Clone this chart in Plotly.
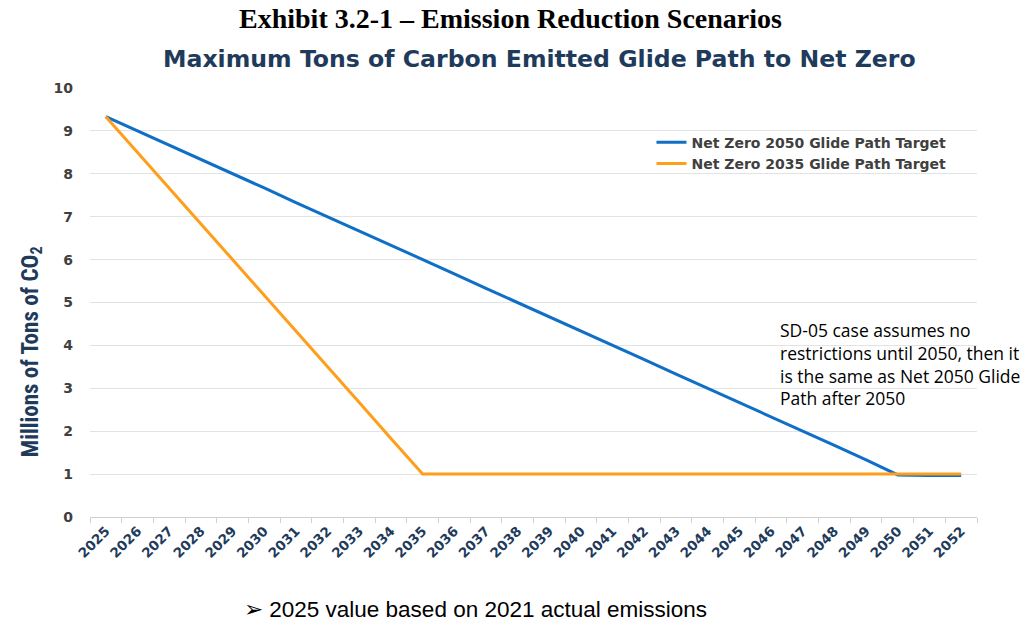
import plotly.graph_objects as go

# Years on the category axis
years = [str(y) for y in range(2025, 2053)]

# Millions of tons of CO2, by year
net_zero_2050 = [9.33, 9.00, 8.67, 8.33, 8.00, 7.67, 7.33, 7.00, 6.67, 6.33,
                 6.00, 5.67, 5.33, 5.00, 4.67, 4.33, 4.00, 3.67, 3.33, 3.00,
                 2.67, 2.33, 2.00, 1.67, 1.33, 0.98, 0.97, 0.97]
net_zero_2035 = [9.33, 8.50, 7.67, 6.83, 6.00, 5.17, 4.33, 3.50, 2.67, 1.83,
                 1.00, 1.00, 1.00, 1.00, 1.00, 1.00, 1.00, 1.00, 1.00, 1.00,
                 1.00, 1.00, 1.00, 1.00, 1.00, 1.00, 1.00, 1.00]

y_ticks = list(range(0, 11))

NAVY = "#1f3b5c"
GRAY_TXT = "#404040"

fig = go.Figure()
fig.add_trace(go.Scatter(
    x=years, y=net_zero_2050, mode="lines",
    name="Net Zero 2050 Glide Path Target",
    line=dict(color="#0f6fc6", width=3),
))
fig.add_trace(go.Scatter(
    x=years, y=net_zero_2035, mode="lines",
    name="Net Zero 2035 Glide Path Target",
    line=dict(color="#ff9e1b", width=3),
))

fig.update_layout(
    width=1026, height=624,
    margin=dict(l=90, r=49, t=88, b=107),
    paper_bgcolor="white", plot_bgcolor="white",
    showlegend=True,
    legend=dict(
        x=0.633, y=0.91, xanchor="left", yanchor="top",
        bgcolor="rgba(0,0,0,0)",
        font=dict(family="DejaVu Sans", size=14, color=GRAY_TXT, weight="bold"),
        tracegroupgap=0, itemwidth=30,
    ),
    xaxis=dict(
        type="category",
        categoryorder="array", categoryarray=years,
        range=[-0.5, len(years) - 0.5],
        tickangle=-45,
        tickfont=dict(family="DejaVu Sans", size=13.5, color=NAVY, weight="bold"),
        showgrid=False,
        showline=True, linecolor="#d0d0d0", linewidth=1,
        ticks="outside", ticklen=5, tickcolor="#d0d0d0",
        tickson="boundaries",
        zeroline=False,
    ),
    yaxis=dict(
        range=[0, 10],
        tickvals=y_ticks,
        tickfont=dict(family="DejaVu Sans", size=14, color=GRAY_TXT, weight="bold"),
        showgrid=True, gridcolor="#e3e3e3", gridwidth=1,
        zeroline=False, showline=False,
        ticklabelstandoff=16,
    ),
)

fig.add_annotation(
    xref="paper", yref="paper", x=0.4746, y=1.163,
    text="<b>Exhibit 3.2-1 – Emission Reduction Scenarios</b>",
    showarrow=False, xanchor="center", yanchor="middle",
    font=dict(family="Liberation Serif", size=28, color="black"),
)
fig.add_annotation(
    xref="paper", yref="paper", x=0.507, y=1.0676,
    text="<b>Maximum Tons of Carbon Emitted Glide Path to Net Zero</b>",
    showarrow=False, xanchor="center", yanchor="middle",
    font=dict(family="DejaVu Sans", size=23.6, color=NAVY),
)
fig.add_annotation(
    xref="paper", yref="paper", x=-0.066, y=0.385,
    text="<b>Millions of Tons of CO<sub>2</sub></b>",
    textangle=-90, showarrow=False, xanchor="center", yanchor="middle",
    font=dict(family="Liberation Sans Narrow, Roboto Condensed, sans-serif", size=23, color=NAVY),
)
fig.add_annotation(
    xref="paper", yref="paper", x=0.7757, y=0.357,
    text="SD-05 case assumes no<br>restrictions until 2050, then it<br>is the same as Net 2050 Glide<br>Path after 2050",
    showarrow=False, xanchor="left", yanchor="middle", align="left",
    font=dict(family="Open Sans", size=17.5, color="black"),
)
fig.add_annotation(
    xref="paper", yref="paper", x=0.4346, y=-0.215,
    text="➢ 2025 value based on 2021 actual emissions",
    showarrow=False, xanchor="center", yanchor="middle",
    font=dict(family="Liberation Sans", size=22.5, color="black"),
)

fig.write_html("out.html")
